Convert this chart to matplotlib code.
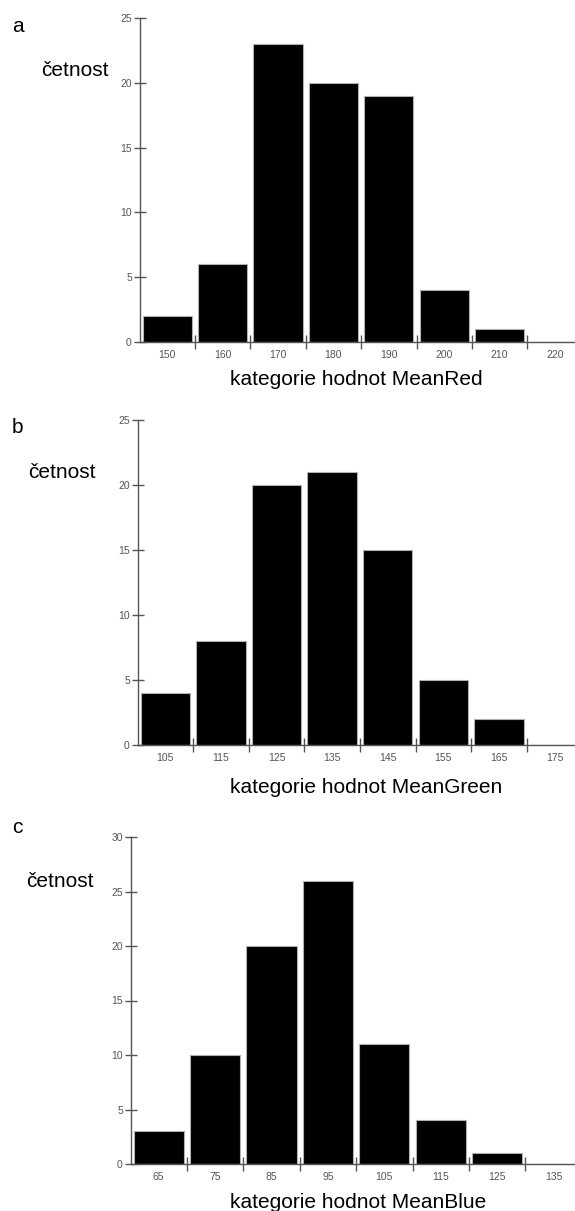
import matplotlib
matplotlib.use("Agg")
import matplotlib.pyplot as plt

plt.rcParams['font.family'] = ['Liberation Sans', 'DejaVu Sans']

# categories (bin centres) and counts for the three histograms
red_bins = ['150', '160', '170', '180', '190', '200', '210', '220']
red_counts = [2, 6, 23, 20, 19, 4, 1, 0]

green_bins = ['105', '115', '125', '135', '145', '155', '165', '175']
green_counts = [4, 8, 20, 21, 15, 5, 2, 0]

blue_bins = ['65', '75', '85', '95', '105', '115', '125', '135']
blue_counts = [3, 10, 20, 26, 11, 4, 1, 0]

W, H = 575, 1211
fig = plt.figure(figsize=(W / 100, H / 100), dpi=100)

# (bins, counts, ymax, letter, xlabel, axis left px, cat width px, y0 px, ytop px,
#  letter baseline, cetnost x, cetnost baseline, xlabel baseline)
panels = [
    (red_bins, red_counts, 25, 'a', 'kategorie hodnot MeanRed',
     139.5, 55.4, 342, 18, 32, 41, 76, 385),
    (green_bins, green_counts, 25, 'b', 'kategorie hodnot MeanGreen',
     137.5, 55.6, 745, 420, 433, 28, 478, 793),
    (blue_bins, blue_counts, 30, 'c', 'kategorie hodnot MeanBlue',
     130.5, 56.4, 1164, 837, 833, 26, 887, 1208),
]

for bins, counts, ymax, letter, xlab, left, cw, y0, ytop, lb, cx, cb, xb in panels:
    ax = fig.add_axes([left / W, 1 - y0 / H, (W - left) / W, (y0 - ytop) / H])
    x = list(range(len(bins)))
    ax.bar(x, counts, width=0.89, color='black', edgecolor='#b0b0b0', linewidth=0.8)
    ax.set_xlim(-0.5, (W - left) / cw - 0.5)
    ax.set_ylim(0, ymax)

    for s in ['top', 'right']:
        ax.spines[s].set_visible(False)
    for s in ['left', 'bottom']:
        ax.spines[s].set_color('#555555')
        ax.spines[s].set_linewidth(1.0)

    # ticks on bin boundaries, labels in the bin centres
    ax.set_xticks([i + 0.5 for i in x[:-1]])
    ax.set_xticklabels([])
    ax.set_xticks(x, minor=True)
    ax.set_xticklabels(bins, minor=True)
    ax.tick_params(axis='x', which='major', direction='inout', length=10,
                   color='#555555', width=1)
    ax.tick_params(axis='x', which='minor', length=0, pad=6,
                   labelsize=7.5, labelcolor='#555555')

    ax.set_yticks(range(0, ymax + 1, 5))
    ax.tick_params(axis='y', direction='inout', length=9, color='#555555', width=1,
                   labelsize=7.5, labelcolor='#555555', pad=1)

    fig.text(12 / W, 1 - lb / H, letter, fontsize=15, va='baseline', ha='left')
    fig.text(cx / W, 1 - cb / H, 'četnost', fontsize=15, va='baseline', ha='left')
    fig.text(230 / W, 1 - xb / H, xlab, fontsize=15, va='baseline', ha='left')

fig.savefig('out.png', dpi=100)
